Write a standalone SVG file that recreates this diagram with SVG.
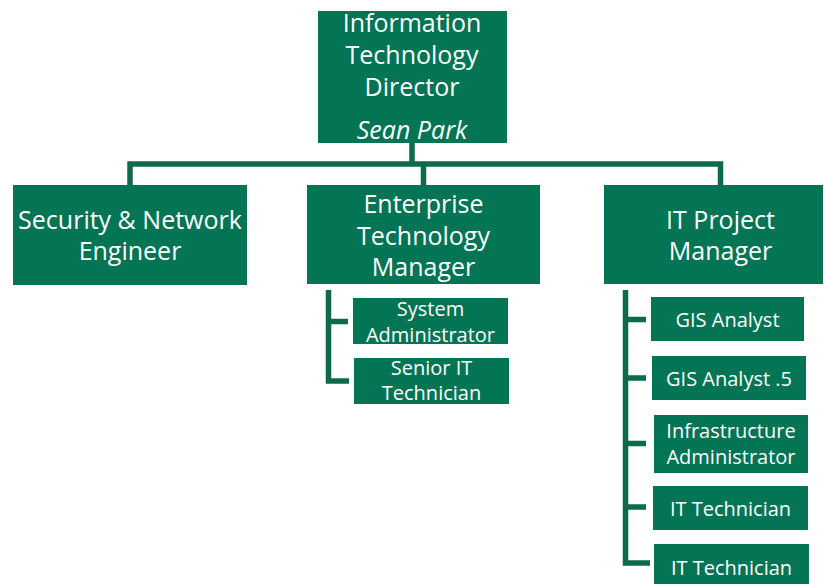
<svg xmlns="http://www.w3.org/2000/svg" width="824" height="584" viewBox="0 0 824 584">
<style>
.box{fill:#037454}
.t{font-family:"Open Sans","Noto Sans","Liberation Sans",sans-serif;fill:#ffffff;text-anchor:middle}
.big{font-size:25px}
.sm{font-size:20px}
.it{font-style:italic}
.conn{fill:none;stroke:#0f6a4c;stroke-width:5.5;stroke-linejoin:miter;stroke-linecap:butt}
</style>
<rect width="824" height="584" fill="#ffffff"/>
<g id="connectors">
<path class="conn" d="M130,185 V164 H720.5 V185"/>
<path class="conn" d="M412,143 V164"/>
<path class="conn" d="M423.5,164 V185"/>
<path class="conn" d="M328.5,290 V381 H349"/>
<path class="conn" d="M328.5,321.5 H348"/>
<path class="conn" d="M625.5,290 V563 H650"/>
<path class="conn" d="M625.5,319.5 H646 M625.5,378 H646 M625.5,443.5 H646 M625.5,507 H646"/>
</g>
<g id="director">
<rect class="box" x="318" y="11" width="189" height="132"/>
<text class="t big" x="412" y="32">Information</text>
<text class="t big" x="412" y="64">Technology</text>
<text class="t big" x="412" y="96">Director</text>
<text class="t big it" x="412" y="139">Sean Park</text>
</g>
<g id="security">
<rect class="box" x="13" y="185" width="234" height="100"/>
<text class="t big" x="130" y="229">Security &amp; Network</text>
<text class="t big" x="130" y="260">Engineer</text>
</g>
<g id="enterprise">
<rect class="box" x="307" y="185" width="233" height="99"/>
<text class="t big" x="423.5" y="213">Enterprise</text>
<text class="t big" x="423.5" y="245">Technology</text>
<text class="t big" x="423.5" y="276">Manager</text>
</g>
<g id="itpm">
<rect class="box" x="604" y="185" width="219" height="99"/>
<text class="t big" x="720.5" y="229">IT Project</text>
<text class="t big" x="720.5" y="260">Manager</text>
</g>
<g id="sysadmin">
<rect class="box" x="353" y="298" width="155" height="46"/>
<text class="t sm" x="430.5" y="316">System</text>
<text class="t sm" x="430.5" y="342">Administrator</text>
</g>
<g id="seniortech">
<rect class="box" x="354" y="358" width="155" height="46"/>
<text class="t sm" x="431.5" y="375">Senior IT</text>
<text class="t sm" x="431.5" y="400">Technician</text>
</g>
<g id="gis1">
<rect class="box" x="651" y="297" width="153" height="44"/>
<text class="t sm" x="727.5" y="327">GIS Analyst</text>
</g>
<g id="gis2">
<rect class="box" x="652" y="356" width="154" height="44"/>
<text class="t sm" x="729" y="386">GIS Analyst .5</text>
</g>
<g id="infra">
<rect class="box" x="654" y="415" width="154" height="58"/>
<text class="t sm" x="731" y="438">Infrastructure</text>
<text class="t sm" x="731" y="464">Administrator</text>
</g>
<g id="ittech1">
<rect class="box" x="653" y="486" width="155" height="44"/>
<text class="t sm" x="730.5" y="516">IT Technician</text>
</g>
<g id="ittech2">
<rect class="box" x="654" y="544" width="155" height="44"/>
<text class="t sm" x="731.5" y="575">IT Technician</text>
</g>
</svg>
